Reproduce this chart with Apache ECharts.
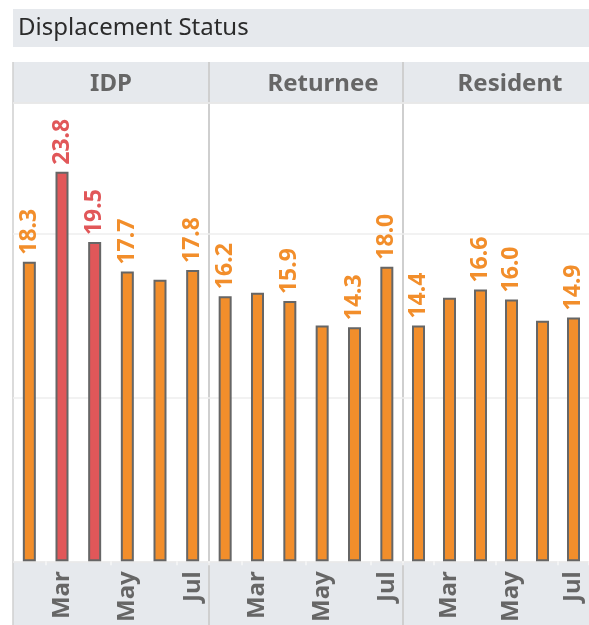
<!DOCTYPE html>
<html>
<head>
<meta charset="utf-8">
<script src="https://cdn.jsdelivr.net/npm/echarts@6/dist/echarts.min.js"></script>
<style>
  html, body { margin: 0; padding: 0; background: #fff; }
  #chart { width: 589px; height: 625px; }
</style>
</head>
<body>
<div id="chart"></div>
<script>
// months on the x axis of every panel
const months = ['Feb', 'Mar', 'Apr', 'May', 'Jun', 'Jul']
const panels = ['IDP', 'Returnee', 'Resident']

// values per displacement status
const idp = [18.3, 23.8, 19.5, 17.7, 17.2, 17.8]
const returnee = [16.2, 16.4, 15.9, 14.4, 14.3, 18.0]
const resident = [14.4, 16.1, 16.6, 16.0, 14.7, 14.9]

// which bars carry a value label, and which are highlighted red
const idpLabels = [1, 1, 1, 1, 0, 1]
const returneeLabels = [1, 0, 1, 0, 1, 1]
const residentLabels = [1, 0, 1, 1, 0, 1]
const idpHighlight = [0, 1, 1, 0, 0, 0]

const ORANGE = '#f28e2b'
const RED = '#e15759'
const BAND = '#e6e9ed'
const FONT = 'Noto Sans'

const chart = echarts.init(document.getElementById('chart'))

const panelBox = [
  { left: 13, width: 196, center: 111 },
  { left: 209, width: 194, center: 323 },
  { left: 403, width: 195, center: 510 },
]
const series = [idp, returnee, resident]
const labelFlags = [idpLabels, returneeLabels, residentLabels]
const highlight = [idpHighlight, [0, 0, 0, 0, 0, 0], [0, 0, 0, 0, 0, 0]]

const option = {
  animation: false,
  title: [
    {
      text: 'Displacement Status',
      left: 18, top: 16, padding: 0,
      textStyle: { fontFamily: FONT, fontSize: 24, fontWeight: 'normal', color: '#2b2b2b' },
    },
    ...panels.map((p, i) => ({
      text: p,
      left: panelBox[i].center, top: 72, padding: 0,
      textAlign: 'center',
      textStyle: { fontFamily: FONT, fontSize: 24, fontWeight: 'bold', color: '#666' },
    })),
  ],
  graphic: {
    elements: [
      { type: 'rect', z: -10, shape: { x: 13, y: 9, width: 576, height: 38 }, style: { fill: BAND } },
      { type: 'rect', z: -10, shape: { x: 13, y: 62, width: 576, height: 41 }, style: { fill: BAND } },
      { type: 'rect', z: -10, shape: { x: 13, y: 562, width: 576, height: 63 }, style: { fill: BAND } },
      { type: 'line', z: -5, shape: { x1: 13, y1: 103, x2: 589, y2: 103 }, style: { stroke: '#cfcfcf', lineWidth: 1.5 } },
      { type: 'line', z: -5, shape: { x1: 13, y1: 562, x2: 589, y2: 562 }, style: { stroke: '#cfcfcf', lineWidth: 1 } },
      { type: 'line', z: -5, shape: { x1: 13, y1: 62, x2: 13, y2: 625 }, style: { stroke: '#cfcfcf', lineWidth: 1.5 } },
      { type: 'line', z: -5, shape: { x1: 209, y1: 62, x2: 209, y2: 625 }, style: { stroke: '#cfcfcf', lineWidth: 2 } },
      { type: 'line', z: -5, shape: { x1: 403, y1: 62, x2: 403, y2: 625 }, style: { stroke: '#cfcfcf', lineWidth: 2 } },
    ],
  },
  grid: panelBox.map((b) => ({ left: b.left, width: b.width, top: 103, height: 459 })),
  xAxis: panelBox.map((b, i) => ({
    type: 'category',
    gridIndex: i,
    data: months,
    axisLine: { show: false },
    axisTick: { show: true, length: 4, lineStyle: { color: '#f7f7f7', width: 1.5 } },
    axisLabel: {
      interval: (idx) => idx % 2 === 1,
      rotate: 90,
      margin: 10,
      fontFamily: FONT,
      fontSize: 24,
      fontWeight: 'bold',
      color: '#666',
    },
  })),
  yAxis: panelBox.map((b, i) => ({
    type: 'value',
    gridIndex: i,
    min: 0,
    max: 28,
    interval: 10,
    axisLabel: { show: false },
    axisLine: { show: false },
    axisTick: { show: false },
    splitLine: { lineStyle: { color: '#eeeeee', width: 1.5 } },
  })),
  series: series.map((vals, i) => ({
    type: 'bar',
    xAxisIndex: i,
    yAxisIndex: i,
    barWidth: 13,
    data: vals.map((v, j) => {
      const c = highlight[i][j] ? RED : ORANGE
      return {
        value: v,
        itemStyle: { color: c, borderColor: '#666', borderWidth: 2 },
        label: {
          show: !!labelFlags[i][j],
          position: 'top',
          rotate: 90,
          align: 'left',
          verticalAlign: 'middle',
          distance: 7,
          formatter: (p) => p.value.toFixed(1),
          fontFamily: FONT,
          fontSize: 23,
          fontWeight: 'bold',
          color: c,
        },
      }
    }),
  })),
}

chart.setOption(option)
window.addEventListener('resize', () => chart.resize())
</script>
</body>
</html>
